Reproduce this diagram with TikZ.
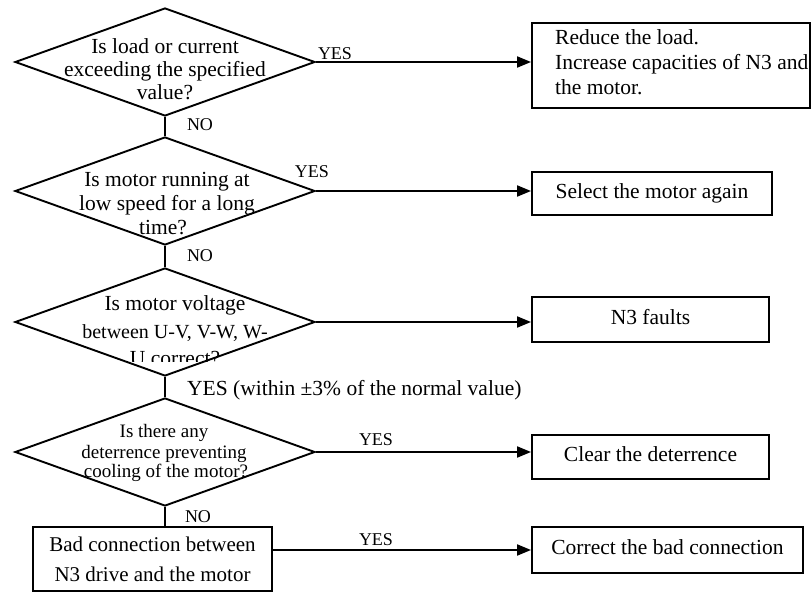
\documentclass[tikz,border=0pt]{standalone}
\usepackage{fontspec}
\setmainfont{Liberation Serif}
\usetikzlibrary{shapes.geometric,arrows.meta}
\begin{document}
\begin{tikzpicture}[x=1pt,y=-1pt,
  every node/.style={inner sep=0pt},
  dia/.style={draw, diamond, minimum width=300pt, minimum height=108pt, line width=1.9pt},
  box/.style={draw, rectangle, line width=1.9pt, align=center, font=\fontsize{21.5}{25}\selectfont},
  sbox/.style={box, text height=14.7pt, text depth=4.7pt},
  qline/.style={anchor=base, font=\fontsize{21.5}{25}\selectfont},
  qsmall/.style={qline, font=\fontsize{19}{22}\selectfont},
  lbl/.style={font=\fontsize{18}{20}\selectfont},
  link/.style={line width=1.9pt},
  arr/.style={link, -{Triangle[length=14pt,width=11pt]}},
]
\fill[white] (0,0) rectangle (812,593);
\useasboundingbox (0,0) rectangle (812,593);

% decision diamonds
\node[dia] (D1) at (165,62) {};
\node[dia] (D2) at (165,191) {};
\node[dia] (D3) at (165,322) {};
\node[dia] (D4) at (165,452) {};

% questions, one line at a time
\node[qline] (q1a) at (165,54) {Is load or current};
\node[qline] (q1b) at (165,77) {exceeding the specified};
\node[qline] (q1c) at (165,100) {value?};

\node[qline] (q2a) at (167,187) {Is motor running at};
\node[qline] (q2b) at (167,211) {low speed for a long};
\node[qline] (q2c) at (163,235) {time?};

\node[qline] (q3a) at (175,311) {Is motor voltage};
\node[qline, font=\fontsize{20}{24}\selectfont] (q3b) at (175,339) {between U-V, V-W, W-};
\begin{scope}
  \clip (0,0) rectangle (812,362);
  \node[qline] (q3c) at (175,366) {U correct?};
\end{scope}

\node[qsmall] (q4a) at (164,438) {Is there any};
\node[qsmall] (q4b) at (164,459) {deterrence preventing};
\node[qsmall] (q4c) at (166,478) {cooling of the motor?};

% action boxes
\node[box, minimum width=278pt, minimum height=85pt] (B1) at (671,65.5) {};
\node[anchor=west, align=left, font=\fontsize{21.5}{25}\selectfont] (B1t) at (555,62)
  {Reduce the load.\\Increase capacities of N3 and\\the motor.};
\node[sbox, minimum width=240pt, minimum height=43pt] (B2) at (652,193.5) {Select the motor again};
\node[sbox, minimum width=237pt, minimum height=45pt] (B3) at (650.5,319.5) {N3 faults};
\node[sbox, minimum width=237pt, minimum height=44pt] (B4) at (650.5,457) {Clear the deterrence};
\node[box, minimum width=239pt, minimum height=64pt, font=\fontsize{21}{30}\selectfont] (B5) at (152.5,559)
  {Bad connection between\\N3 drive and the motor};
\node[sbox, minimum width=271pt, minimum height=46pt] (B6) at (667.5,550) {Correct the bad connection};

% branch labels
\node[lbl] (y1) at (335,54) {YES};
\node[lbl] (n1) at (200,125) {NO};
\node[lbl] (y2) at (312,172) {YES};
\node[lbl] (n2) at (200,256) {NO};
\node[lbl, anchor=west, font=\fontsize{21.5}{25}\selectfont] (y3) at (187,390)
  {YES (within ±3\% of the normal value)};
\node[lbl] (y4) at (376,440) {YES};
\node[lbl] (n4) at (198,517) {NO};
\node[lbl] (y5) at (376,540) {YES};

% connectors
\draw[link] (D1.south) -- (D2.north);
\draw[link] (D2.south) -- (D3.north);
\draw[link] (D3.south) -- (D4.north);
\draw[link] (D4.south) -- (D4.south |- B5.north);
\draw[arr] (D1.east) -- (D1.east -| B1.west);
\draw[arr] (D2.east) -- (D2.east -| B2.west);
\draw[arr] (D3.east) -- (D3.east -| B3.west);
\draw[arr] (D4.east) -- (D4.east -| B4.west);
\draw[arr] (B5.east |- B6.west) -- (B6.west);
\end{tikzpicture}
\end{document}
